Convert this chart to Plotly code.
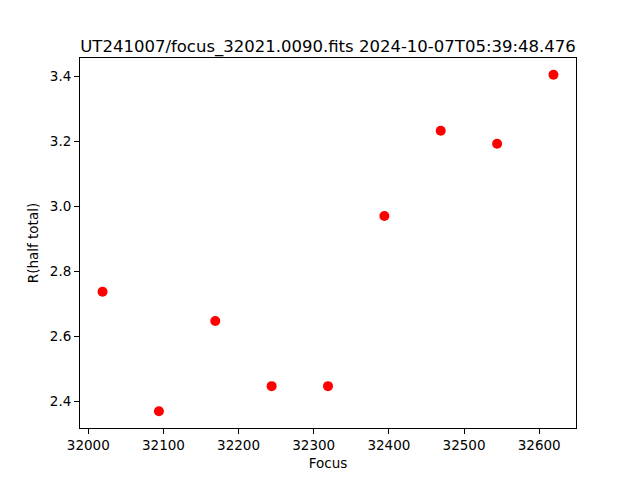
import plotly.graph_objects as go

focus = [32019, 32094, 32169, 32244, 32319, 32394, 32469, 32544, 32619]
r_half = [2.738, 2.371, 2.648, 2.448, 2.448, 2.971, 3.233, 3.193, 3.405]
x_ticks = [32000, 32100, 32200, 32300, 32400, 32500, 32600]
x_tick_text = ["32000", "32100", "32200", "32300", "32400", "32500", "32600"]
y_ticks = [2.4, 2.6, 2.8, 3.0, 3.2, 3.4]
y_tick_text = ["2.4", "2.6", "2.8", "3.0", "3.2", "3.4"]
title_text = "UT241007/focus_32021.0090.fits 2024-10-07T05:39:48.476"

def padded(vals, frac=0.05):
    lo, hi = min(vals), max(vals)
    d = (hi - lo) * frac
    return [lo - d, hi + d]

fig = go.Figure(go.Scatter(
    x=focus, y=r_half, mode="markers",
    marker=dict(color="red", size=10, line=dict(width=0)),
))

font = "DejaVu Sans, sans-serif"
axis_common = dict(
    showgrid=False, zeroline=False, showline=True, linecolor="black",
    linewidth=1, mirror=True, ticks="outside", ticklen=5, tickwidth=1,
    tickcolor="black", tickfont=dict(family=font, size=13.5, color="black"),
    automargin=False,
)
fig.update_layout(
    width=640, height=480,
    margin=dict(l=72, r=72, t=50, b=60),
    paper_bgcolor="white", plot_bgcolor="white",
    showlegend=False,
    title=dict(text=title_text, x=0.5, xref="paper", xanchor="center",
               y=1, yref="paper", yanchor="bottom", pad=dict(b=6),
               automargin=False,
               font=dict(family=font, size=16.5, color="black")),
    xaxis=dict(range=padded(focus), tickvals=x_ticks, ticktext=x_tick_text,
               title=dict(text="Focus", font=dict(family=font, size=13.5, color="black"), standoff=6),
               **axis_common),
    yaxis=dict(range=padded(r_half), tickvals=y_ticks, ticktext=y_tick_text,
               title=dict(text="R(half total)", font=dict(family=font, size=13.5, color="black"), standoff=8),
               **axis_common),
)
fig.write_html("out.html")
